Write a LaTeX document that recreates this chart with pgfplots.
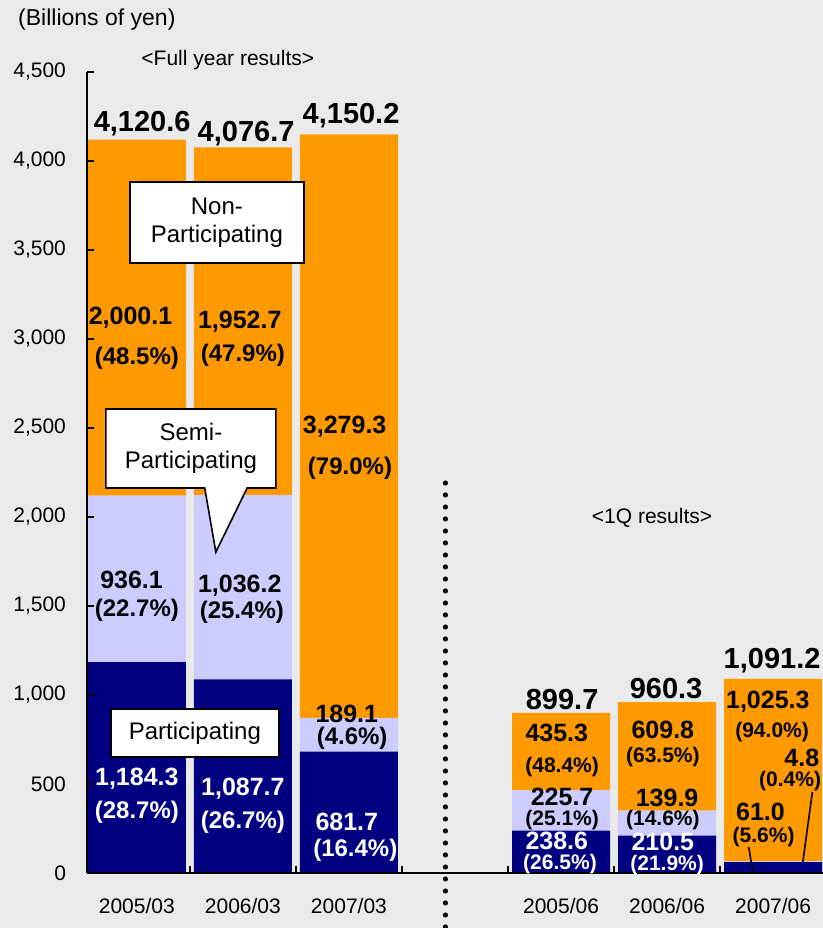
\documentclass[border=0pt]{standalone}
\usepackage{pgfplots}
\pgfplotsset{compat=1.18}
\usepackage{fontspec}
\setmainfont{Liberation Sans}
\definecolor{bgc}{HTML}{EAEAEA}
\definecolor{navyc}{HTML}{000080}
\definecolor{lavc}{HTML}{CCCCFF}
\definecolor{orc}{HTML}{FF9900}
\pgfplotstableread{
x part semi non
0 1184.3 936.1 2000.1
1 1087.7 1036.2 1952.7
2 681.7 189.1 3279.3
4 238.6 225.7 435.3
5 210.5 139.9 609.8
6 61.0 4.8 1025.3
}\datatable
\newcommand{\lab}[4]{\node[font=#4,inner sep=0pt] at (axis cs:#1,#2) {#3};}
\newcommand{\wlab}[4]{\node[font=#4,text=white,inner sep=0pt] at (axis cs:#1,#2) {#3};}
\newcommand{\tot}{\fontsize{14.5}{17}\selectfont\bfseries}
\newcommand{\val}{\fontsize{12.5}{15}\selectfont\bfseries}
\newcommand{\pca}{\fontsize{12}{14}\selectfont\bfseries}
\newcommand{\pcb}{\fontsize{10.5}{13}\selectfont\bfseries}
\pgfplotsset{common/.style={
  at={(0,0)}, anchor=south west,
  scale only axis,
  width=368pt, height=400.5pt,
  xmin=-0.47, xmax=6.47,
  ymin=0, ymax=4500,
  clip=false}}
\begin{document}
\begin{tikzpicture}
\fill[bgc] (-43.5pt,-27.5pt) rectangle (368pt,436.5pt);
\useasboundingbox (-43.5pt,-27.5pt) rectangle (368pt,436.5pt);
\begin{axis}[
  common, hide axis,
  ybar stacked,
  bar width=49pt,
]
\addplot[fill=navyc, draw=none] table[x=x, y=part] {\datatable};
\addplot[fill=lavc, draw=none] table[x=x, y=semi] {\datatable};
\addplot[fill=orc, draw=none] table[x=x, y=non] {\datatable};
\end{axis}
\begin{axis}[
  common,
  axis lines=left,
  axis line style={-, line width=1pt},
  xtick={0,1,2,4,5,6},
  xticklabels={2005/03,2006/03,2007/03,2005/06,2006/06,2007/06},
  major x tick style={draw=none},
  minor xtick={0.5,1.5,2.5,3.5,4.5,5.5},
  minor tick length=3.5pt,
  ytick={0,500,...,4500},
  major tick length=3.5pt,
  tick align=inside,
  tick style={black, line width=0.8pt},
  yticklabel style={xshift=-7pt},
  xticklabel style={yshift=-9pt},
  ticklabel style={font=\fontsize{10.5}{12}\selectfont},
  /pgf/number format/.cd, 1000 sep={,}, assume math mode=true,
]
% dotted separator
\draw[line width=2.6pt, line cap=round, dash pattern=on 0pt off 6pt] (axis cs:2.91,2191) -- (axis cs:2.91,-309);

% headers
\node[font=\fontsize{11.5}{13}\selectfont] at (axis cs:-0.377,4792) {(Billions of yen)};
\node[font=\fontsize{10.5}{12}\selectfont] at (axis cs:0.858,4567) {<Full year results>};
\node[font=\fontsize{10.5}{12}\selectfont] at (axis cs:4.858,1995) {<1Q results>};

% totals
\lab{0.05}{4208}{4,120.6}{\tot}
\lab{1.03}{4152}{4,076.7}{\tot}
\lab{2.02}{4253}{4,150.2}{\tot}
\lab{4.01}{972}{899.7}{\tot}
\lab{4.99}{1034}{960.3}{\tot}
\lab{5.99}{1191}{1,091.2}{\tot}

% full-year non-participating
\lab{-0.06}{3118}{2,000.1}{\val}
\lab{0.0}{2893}{(48.5\%)}{\pca}
\lab{0.97}{3095}{1,952.7}{\val}
\lab{1.0}{2910}{(47.9\%)}{\pca}
\lab{1.96}{2506}{3,279.3}{\val}
\lab{2.01}{2275}{(79.0\%)}{\pca}
% full-year semi
\lab{-0.05}{1646}{936.1}{\val}
\lab{0.0}{1478}{(22.7\%)}{\pca}
\lab{0.97}{1612}{1,036.2}{\val}
\lab{0.99}{1466}{(25.4\%)}{\pca}
\lab{1.98}{893}{189.1}{\val}
\lab{2.03}{758}{(4.6\%)}{\pca}
% full-year participating
\wlab{0.0}{528}{1,184.3}{\val}
\wlab{0.0}{343}{(28.7\%)}{\pca}
\wlab{1.0}{472}{1,087.7}{\val}
\wlab{1.0}{287}{(26.7\%)}{\pca}
\wlab{1.98}{287}{681.7}{\val}
\wlab{2.06}{129}{(16.4\%)}{\pca}

% 1Q
\lab{3.96}{787}{435.3}{\val}
\lab{4.01}{596}{(48.4\%)}{\pcb}
\lab{4.01}{430}{225.7}{\val}
\lab{4.01}{298}{(25.1\%)}{\pcb}
\wlab{3.96}{180}{238.6}{\val}
\wlab{3.99}{52}{(26.5\%)}{\pcb}
\lab{4.96}{803}{609.8}{\val}
\lab{4.96}{652}{(63.5\%)}{\pcb}
\lab{5.0}{424}{139.9}{\val}
\lab{4.96}{298}{(14.6\%)}{\pcb}
\wlab{4.96}{175}{210.5}{\val}
\wlab{5.0}{42}{(21.9\%)}{\pcb}
\lab{5.95}{961}{1,025.3}{\val}
\lab{5.99}{792}{(94.0\%)}{\pcb}
\lab{6.27}{648}{4.8}{\val}
\lab{6.16}{515}{(0.4\%)}{\pcb}
\lab{5.88}{343}{61.0}{\val}
\lab{5.91}{202}{(5.6\%)}{\pcb}
\draw[line width=0.8pt] (axis cs:6.37,455) -- (axis cs:6.28,62);
\draw[line width=0.8pt] (axis cs:5.77,146) -- (axis cs:5.81,0);

% callouts
\node[draw=black, line width=0.8pt, fill=white, minimum width=87pt, minimum height=40.5pt, align=center,
  font=\fontsize{12}{14}\selectfont, inner sep=0pt] at (axis cs:0.755,3654) {Non-\\Participating};
\draw[line width=0.8pt, fill=white] (axis cs:-0.292,2607) -- (axis cs:1.311,2607) -- (axis cs:1.311,2163)
  -- (axis cs:1.04,2163) -- (axis cs:0.745,1803) -- (axis cs:0.64,2163) -- (axis cs:-0.292,2163) -- cycle;
\node[align=center, font=\fontsize{12}{14}\selectfont, inner sep=0pt] at (axis cs:0.51,2385) {Semi-\\Participating};
\node[draw=black, line width=0.8pt, fill=white, minimum width=84pt, minimum height=24pt,
  font=\fontsize{12}{14}\selectfont, inner sep=0pt] at (axis cs:0.547,787) {Participating};
\end{axis}
\end{tikzpicture}
\end{document}
